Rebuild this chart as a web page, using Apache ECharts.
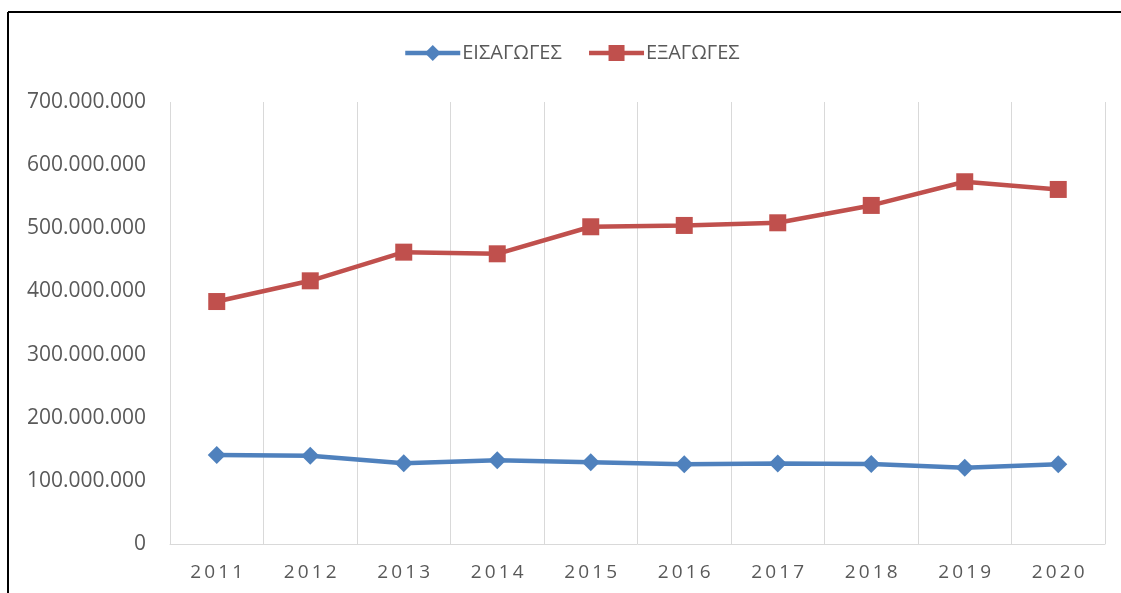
<!DOCTYPE html>
<html>
<head>
<meta charset="utf-8">
<script src="https://cdn.jsdelivr.net/npm/echarts@6/dist/echarts.min.js"></script>
<style>
  html, body { margin: 0; padding: 0; background: #fff; }
  #main { width: 1121px; height: 593px; }
</style>
</head>
<body>
<div id="main"></div>
<script>
const years = ['2011', '2012', '2013', '2014', '2015', '2016', '2017', '2018', '2019', '2020'];
const imports = [141000000, 139900000, 127900000, 132600000, 129500000, 126300000, 127300000, 126800000, 120900000, 126300000];
const exports = [384000000, 416800000, 462200000, 459600000, 502400000, 504500000, 508700000, 536200000, 573700000, 561500000];
const importsName = 'ΕΙΣΑΓΩΓΕΣ';
const exportsName = 'ΕΞΑΓΩΓΕΣ';

const chart = echarts.init(document.getElementById('main'));

// thousands separated with dots, like the original sheet
const dots = v => String(v).replace(/\B(?=(\d{3})+(?!\d))/g, '.');

const options = {
    animation: false,
    textStyle: { fontFamily: 'Open Sans' },
    graphic: [
        // frame of the original chart (only top and left edges visible)
        { type: 'line', shape: { x1: 8, y1: 12, x2: 1121, y2: 12 }, style: { stroke: '#000', lineWidth: 2 } },
        { type: 'line', shape: { x1: 8, y1: 12, x2: 8, y2: 593 }, style: { stroke: '#000', lineWidth: 2 } }
    ],
    legend: {
        top: 38,
        left: 398,
        itemWidth: 55,
        itemHeight: 20,
        itemGap: 25,
        lineStyle: { width: 4.5 },
        textStyle: { color: '#595959', fontSize: 20, padding: [0, 0, 0, -3] },
        data: [importsName, exportsName]
    },
    grid: {
        left: 170,
        right: 16,
        top: 102,
        bottom: 49
    },
    xAxis: {
        type: 'category',
        data: years,
        boundaryGap: true,
        axisLine: { show: true, lineStyle: { color: '#d9d9d9', width: 1 } },
        axisTick: { show: false },
        splitLine: { show: true, lineStyle: { color: '#d9d9d9', width: 1 } },
        axisLabel: {
            color: '#595959',
            fontSize: 19,
            margin: 19,
            formatter: v => v.split('').join('\u2009')
        }
    },
    yAxis: {
        type: 'value',
        min: 0,
        max: 700000000,
        interval: 100000000,
        axisLine: { show: false },
        axisTick: { show: false },
        splitLine: { show: false },
        axisLabel: {
            color: '#595959',
            fontSize: 21,
            margin: 24,
            formatter: dots
        }
    },
    series: [
        {
            name: importsName,
            type: 'line',
            data: imports,
            symbol: 'diamond',
            symbolSize: 18,
            color: '#4f81bd',
            lineStyle: { width: 4.5, color: '#4f81bd' },
            itemStyle: { color: '#4f81bd' }
        },
        {
            name: exportsName,
            type: 'line',
            data: exports,
            symbol: 'rect',
            symbolSize: 17,
            color: '#c0504d',
            lineStyle: { width: 4.5, color: '#c0504d' },
            itemStyle: { color: '#c0504d' }
        }
    ]
};

chart.setOption(options);
</script>
</body>
</html>
